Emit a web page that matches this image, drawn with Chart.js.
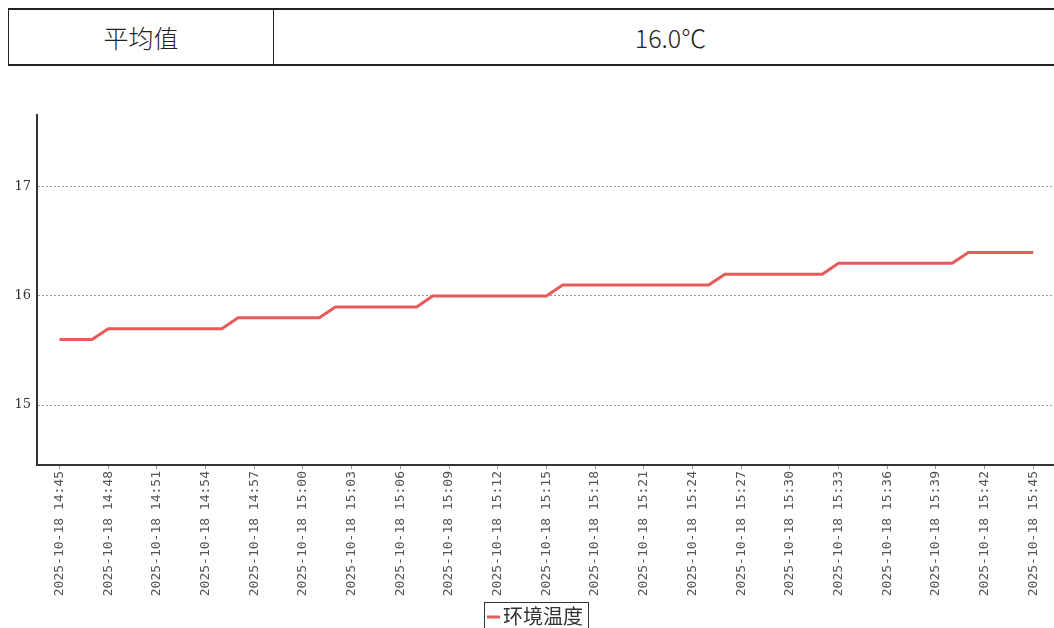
<!DOCTYPE html>
<html>
<head>
<meta charset="utf-8">
<script src="https://cdn.jsdelivr.net/npm/chart.js@4/dist/chart.umd.min.js"></script>
<style>
  html, body { margin: 0; padding: 0; background: #fff; }
  body { width: 1054px; height: 628px; overflow: hidden; position: relative; }
  .avg {
    position: absolute; left: 8px; top: 8px; width: 1060px; height: 58px;
    border-collapse: collapse; font-family: "Noto Sans CJK SC", serif; color: #222;
  }
  .avg td { border: 1px solid #222; border-top-width: 2px; border-bottom-width: 2px; text-align: center; font-size: 25px; font-weight: 300; }
  .avg td.k { width: 262px; }
  #wrap { position: absolute; left: 0; top: 100px; width: 1054px; height: 540px; }
</style>
</head>
<body>
<table class="avg"><tr><td class="k">平均值</td><td id="avgVal"></td></tr></table>
<div id="wrap"><canvas id="c"></canvas></div>
<script>
// 시간 라벨 (1분 간격)
const times = [
  '2025-10-18 14:45', '2025-10-18 14:46', '2025-10-18 14:47', '2025-10-18 14:48', '2025-10-18 14:49',
  '2025-10-18 14:50', '2025-10-18 14:51', '2025-10-18 14:52', '2025-10-18 14:53', '2025-10-18 14:54',
  '2025-10-18 14:55', '2025-10-18 14:56', '2025-10-18 14:57', '2025-10-18 14:58', '2025-10-18 14:59',
  '2025-10-18 15:00', '2025-10-18 15:01', '2025-10-18 15:02', '2025-10-18 15:03', '2025-10-18 15:04',
  '2025-10-18 15:05', '2025-10-18 15:06', '2025-10-18 15:07', '2025-10-18 15:08', '2025-10-18 15:09',
  '2025-10-18 15:10', '2025-10-18 15:11', '2025-10-18 15:12', '2025-10-18 15:13', '2025-10-18 15:14',
  '2025-10-18 15:15', '2025-10-18 15:16', '2025-10-18 15:17', '2025-10-18 15:18', '2025-10-18 15:19',
  '2025-10-18 15:20', '2025-10-18 15:21', '2025-10-18 15:22', '2025-10-18 15:23', '2025-10-18 15:24',
  '2025-10-18 15:25', '2025-10-18 15:26', '2025-10-18 15:27', '2025-10-18 15:28', '2025-10-18 15:29',
  '2025-10-18 15:30', '2025-10-18 15:31', '2025-10-18 15:32', '2025-10-18 15:33', '2025-10-18 15:34',
  '2025-10-18 15:35', '2025-10-18 15:36', '2025-10-18 15:37', '2025-10-18 15:38', '2025-10-18 15:39',
  '2025-10-18 15:40', '2025-10-18 15:41', '2025-10-18 15:42', '2025-10-18 15:43', '2025-10-18 15:44',
  '2025-10-18 15:45'
];

// 환경온도 값
const temps = [
  15.6, 15.6, 15.6, 15.7, 15.7, 15.7, 15.7, 15.7, 15.7, 15.7,
  15.7, 15.8, 15.8, 15.8, 15.8, 15.8, 15.8, 15.9, 15.9, 15.9,
  15.9, 15.9, 15.9, 16.0, 16.0, 16.0, 16.0, 16.0, 16.0, 16.0,
  16.0, 16.1, 16.1, 16.1, 16.1, 16.1, 16.1, 16.1, 16.1, 16.1,
  16.1, 16.2, 16.2, 16.2, 16.2, 16.2, 16.2, 16.2, 16.3, 16.3,
  16.3, 16.3, 16.3, 16.3, 16.3, 16.3, 16.4, 16.4, 16.4, 16.4,
  16.4
];

const yTicks = [15, 16, 17];
const seriesName = '环境温度';
const lineColor = '#e85a5a';

// 평균값
const avg = temps.reduce((a, b) => a + b, 0) / temps.length;
document.getElementById('avgVal').textContent = avg.toFixed(1) + '℃';

// 범례 (테두리 박스)
const boxLegend = {
  id: 'boxLegend',
  afterDraw(chart) {
    const ctx = chart.ctx;
    const ds = chart.data.datasets[0];
    ctx.save();
    ctx.font = '20px "Noto Sans CJK SC"';
    const tw = ctx.measureText(ds.label).width;
    const w = tw + 24;
    const x = chart.width / 2 + 9 - w / 2;
    const y = chart.chartArea.bottom + 137;
    ctx.strokeStyle = '#333';
    ctx.lineWidth = 1;
    ctx.strokeRect(x + 0.5, y + 0.5, w, 40);
    ctx.strokeStyle = ds.borderColor;
    ctx.lineWidth = 3;
    ctx.beginPath();
    ctx.moveTo(x + 3, y + 15);
    ctx.lineTo(x + 16, y + 15);
    ctx.stroke();
    ctx.fillStyle = '#333';
    ctx.textBaseline = 'middle';
    ctx.fillText(ds.label, x + 19, y + 14);
    ctx.restore();
  }
};

new Chart(document.getElementById('c').getContext('2d'), {
  type: 'line',
  data: {
    datasets: [{
      label: seriesName,
      data: temps.map((v, i) => ({ x: i, y: v })),
      borderColor: lineColor,
      backgroundColor: lineColor,
      borderWidth: 3,
      pointRadius: 0,
      tension: 0,
      fill: false
    }]
  },
  options: {
    responsive: true,
    maintainAspectRatio: false,
    animation: false,
    layout: { padding: { top: 15, right: 0, left: 0, bottom: 0 } },
    plugins: { legend: { display: false }, tooltip: { enabled: false } },
    scales: {
      x: {
        type: 'linear',
        min: -1.39,
        max: 61.28,
        afterBuildTicks: (s) => {
          const t = [];
          for (let i = 0; i < times.length; i += 3) t.push({ value: i });
          s.ticks = t;
        },
        afterFit: (s) => { s.height = 175; },
        grid: { drawOnChartArea: false, drawTicks: true, tickLength: 4, color: '#999' },
        border: { color: '#333', width: 2 },
        ticks: {
          autoSkip: false,
          minRotation: 90,
          maxRotation: 90,
          padding: 2,
          color: '#555',
          font: { family: 'DejaVu Sans Mono', size: 13 },
          callback: (v) => times[v]
        }
      },
      y: {
        min: 14.45,
        max: 17.66,
        afterBuildTicks: (s) => { s.ticks = yTicks.map(v => ({ value: v })); },
        afterFit: (s) => { s.width = 37; },
        grid: { drawTicks: false, color: '#999', lineWidth: 1 },
        border: { color: '#333', width: 2, dash: [2, 2] },
        ticks: {
          padding: 6,
          color: '#333',
          font: { family: 'DejaVu Serif', size: 13 }
        }
      }
    }
  },
  plugins: [boxLegend]
});
</script>
</body>
</html>
